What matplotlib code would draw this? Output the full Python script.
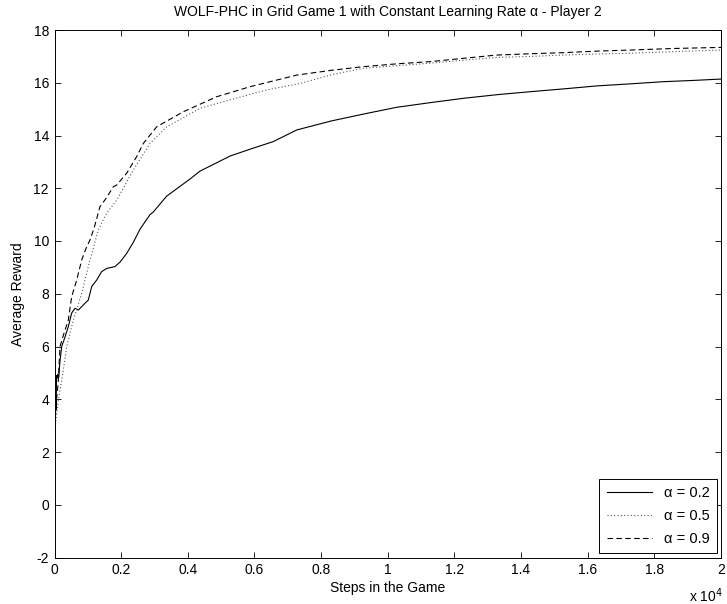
import matplotlib
matplotlib.use("Agg")
import matplotlib.pyplot as plt
import numpy as np

plt.rcParams['font.family'] = ['Liberation Sans', 'DejaVu Sans']
plt.rcParams['font.size'] = 10
plt.rcParams['axes.unicode_minus'] = False

# Average reward of player 2 vs. steps, for three learning rates
steps_02 = [0, 10, 20, 30, 40, 50, 60, 80, 100, 130, 160, 216, 300, 414, 516, 615, 714, 915,
            1014, 1116, 1266, 1416, 1566, 1815, 1966, 2166, 2365, 2566, 2866, 2965, 3365,
            4066, 4366, 5266, 5867, 6567, 7268, 8300, 9300, 10270, 11300, 12268, 13300,
            14270, 15300, 16271, 17300, 18270, 19200, 20000]
reward_02 = [2.4, 3.6, 4.2, 3.4, 4.1, 3.6, 4.9, 4.8, 4.95, 4.85, 5.4, 6.0, 6.3, 6.75, 7.27,
             7.45, 7.38, 7.64, 7.76, 8.27, 8.52, 8.84, 8.96, 9.03, 9.2, 9.53, 9.95, 10.45,
             11.0, 11.1, 11.7, 12.35, 12.65, 13.22, 13.48, 13.77, 14.21, 14.55, 14.82, 15.07,
             15.25, 15.41, 15.55, 15.66, 15.77, 15.88, 15.96, 16.04, 16.09, 16.14]

steps_05 = [0, 20, 40, 66, 120, 216, 300, 366, 465, 565, 690, 816, 940, 1065, 1190, 1315,
            1440, 1566, 1866, 2365, 2866, 3367, 4366, 5266, 6368, 7367, 8300, 9267, 10300,
            11268, 12300, 13268, 14300, 15269, 16300, 17270, 18600, 20000]
reward_05 = [1.9, 2.9, 3.2, 3.47, 4.0, 4.73, 5.4, 6.0, 6.5, 7.0, 7.5, 8.02, 8.65, 9.28,
             9.85, 10.42, 10.75, 11.05, 11.55, 12.69, 13.7, 14.33, 15.03, 15.35, 15.73, 15.97,
             16.3, 16.55, 16.65, 16.74, 16.86, 16.96, 17.0, 17.05, 17.09, 17.12, 17.18, 17.24]

steps_09 = [0, 20, 40, 70, 110, 165, 260, 414, 516, 666, 816, 940, 1065, 1190, 1365, 1566,
            1766, 1866, 2166, 2466, 2666, 3066, 3866, 4867, 5867, 7268, 8300, 9267, 10300,
            11268, 12300, 13268, 14300, 15269, 16300, 17270, 18600, 20000]
reward_09 = [2.3, 3.3, 3.9, 4.1, 4.6, 6.0, 6.4, 7.0, 7.89, 8.52, 9.28, 9.7, 10.04, 10.5,
             11.3, 11.65, 12.06, 12.12, 12.57, 13.2, 13.7, 14.33, 14.9, 15.47, 15.85, 16.29,
             16.47, 16.61, 16.72, 16.8, 16.93, 17.05, 17.1, 17.14, 17.2, 17.24, 17.3, 17.34]

labels = ['α = 0.2', 'α = 0.5', 'α = 0.9']
xticks = [0, 2000, 4000, 6000, 8000, 10000, 12000, 14000, 16000, 18000, 20000]
xticklabels = ['0', '0.2', '0.4', '0.6', '0.8', '1', '1.2', '1.4', '1.6', '1.8', '2']
yticks = list(range(-2, 19, 2))

fig = plt.figure(figsize=(7.27, 6.04), dpi=100)
ax = fig.add_axes([54.5 / 727, (604 - 557.5) / 604, (721 - 54.5) / 727, (557.5 - 30) / 604])

ax.plot(steps_02, reward_02, color='black', lw=0.8, ls='-', label=labels[0])
ax.plot(steps_05, reward_05, color='#555555', lw=0.8, ls=(0, (1, 2)), label=labels[1])
ax.plot(steps_09, reward_09, color='black', lw=0.8, ls=(0, (5, 3)), label=labels[2])

ax.set_xlim(0, 20000)
ax.set_ylim(-2, 18)
ax.set_xticks(xticks)
ax.set_xticklabels(xticklabels)
ax.set_yticks(yticks)
ax.tick_params(direction='in', length=4.5, width=0.6, top=True, right=True, pad=4)
for s in ax.spines.values():
    s.set_linewidth(0.7)

ax.set_title('WOLF-PHC in Grid Game 1 with Constant Learning Rate α - Player 2',
             fontsize=10, pad=10)
ax.set_xlabel('Steps in the Game', labelpad=3)
ax.set_ylabel('Average Reward', labelpad=6)
fig.text(723 / 727, 1 - 596 / 604, r'x 10$^{4}$', fontsize=10, va='center', ha='right')

leg = ax.legend(loc='lower right', fancybox=False, edgecolor='black', framealpha=1,
                handlelength=3.1, borderaxespad=0.3, labelspacing=0.6, fontsize=10.5,
                borderpad=0.5)
leg.get_frame().set_linewidth(0.7)

fig.savefig('out.png', dpi=100)
